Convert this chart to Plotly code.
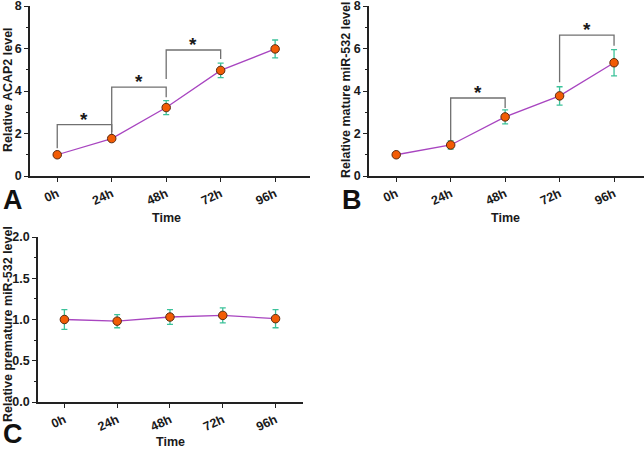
import plotly.graph_objects as go

W, H = 644, 449
times = ["0h", "24h", "48h", "72h", "96h"]
xi = list(range(len(times)))

acap2_mean = [1.0, 1.76, 3.22, 4.97, 5.98]
acap2_err = [0.05, 0.06, 0.33, 0.34, 0.42]
mature_mean = [1.0, 1.46, 2.78, 3.77, 5.33]
mature_err = [0.05, 0.19, 0.33, 0.43, 0.62]
pre_mean = [1.0, 0.98, 1.03, 1.05, 1.01]
pre_err = [0.12, 0.08, 0.09, 0.09, 0.11]

# significance brackets: (left idx, right idx, top y, left leg bottom, right leg bottom)
sig_a = [(0, 1, 2.42, 1.3, 1.92), (1, 2, 4.18, 2.07, 3.7), (2, 3, 5.93, 4.57, 5.5)]
sig_b = [(1, 2, 3.67, 1.6, 3.2), (3, 4, 6.63, 4.41, 6.13)]

LINE = "#a845c0"
MARK = "#f25c05"
ERR = "#3cc29a"
BR = "#707070"
FONT = "Liberation Sans"
TXT = "#1a1a1a"

def px_x(p):
    return p / W

def px_y(p):
    return 1 - p / H

fig = go.Figure()

panels = [
    dict(x="x", y="y", mean=acap2_mean, err=acap2_err, sig=sig_a),
    dict(x="x2", y="y2", mean=mature_mean, err=mature_err, sig=sig_b),
    dict(x="x3", y="y3", mean=pre_mean, err=pre_err, sig=[]),
]

for p in panels:
    for (i, j, top, lb, rb) in p["sig"]:
        fig.add_trace(go.Scatter(x=[i, i, j, j], y=[lb, top, top, rb], mode="lines",
                                 line=dict(color=BR, width=1.3), xaxis=p["x"], yaxis=p["y"],
                                 showlegend=False, hoverinfo="skip"))
        fig.add_annotation(x=(i + j) / 2, y=top, xref=p["x"], yref=p["y"], text="<b>*</b>",
                           showarrow=False, yanchor="bottom", xanchor="center", yshift=-7,
                           font=dict(family=FONT, size=19, color=TXT))
    fig.add_trace(go.Scatter(x=xi, y=p["mean"], mode="lines+markers",
                             line=dict(color=LINE, width=1.3),
                             marker=dict(color=MARK, size=8.5, line=dict(color="#5a2a10", width=1)),
                             error_y=dict(type="data", array=p["err"], color=ERR, thickness=1.3, width=3),
                             xaxis=p["x"], yaxis=p["y"], showlegend=False))

tickfont = dict(family=FONT, size=12.5, color=TXT, weight="bold")
titlefont = dict(family=FONT, size=12.5, color=TXT, weight="bold")

def xax(dom, rng, anchor):
    return dict(domain=dom, range=rng, anchor=anchor, tickmode="array", tickvals=xi, ticktext=times,
                tickangle=-25, showline=True, linecolor="#222", linewidth=1.5, ticks="outside",
                ticklen=4, tickwidth=1.3, tickcolor="#222", showgrid=False, zeroline=False,
                tickfont=tickfont, automargin=False, ticklabeloverflow="allow")

def yax(dom, rng, dtick, anchor, minor, fmt):
    return dict(domain=dom, range=rng, anchor=anchor, dtick=dtick, tickformat=fmt, showline=True,
                linecolor="#222", linewidth=1.5, ticks="outside", ticklen=4, tickwidth=1.3,
                tickcolor="#222", showgrid=False, zeroline=False, tickfont=tickfont, automargin=False,
                ticklabeloverflow="allow",
                minor=dict(dtick=minor, ticks="outside", ticklen=2.5, tickwidth=1, tickcolor="#222"))

fig.update_layout(
    width=W, height=H, margin=dict(l=0, r=0, t=0, b=0),
    plot_bgcolor="white", paper_bgcolor="white",
    xaxis=xax([px_x(30), px_x(310)], [-0.5, 4.64], "y"),
    yaxis=yax([px_y(176), px_y(6)], [0, 8], 2, "x", 1, "d"),
    xaxis2=xax([px_x(369), 1.0], [-0.5, 4.55], "y2"),
    yaxis2=yax([px_y(176), px_y(6)], [0, 8], 2, "x2", 1, "d"),
    xaxis3=xax([px_x(38), px_x(303)], [-0.5, 4.52], "y3"),
    yaxis3=yax([px_y(402), px_y(237)], [0, 2], 0.5, "x3", 0.25, ".1f"),
)

# axis titles
for txt, x, y, ang in [("Time", 166, 218, 0), ("Time", 505, 218, 0), ("Time", 171, 442, 0),
                       ("Relative ACAP2 level", 8, 90, -90),
                       ("Relative mature miR-532 level", 346, 90, -90),
                       ("Relative premature miR-532 level", 8, 324, -90)]:
    fig.add_annotation(x=px_x(x), y=px_y(y), xref="paper", yref="paper", text=txt, showarrow=False,
                       xanchor="center", yanchor="middle", textangle=ang, font=titlefont)

for txt, x, y in [("A", 13, 200), ("B", 352, 200), ("C", 13, 434)]:
    fig.add_annotation(x=px_x(x), y=px_y(y), xref="paper", yref="paper", text=txt, showarrow=False,
                       xanchor="center", yanchor="middle",
                       font=dict(family=FONT, size=27, color="#111", weight="bold"))

fig.write_html("out.html", config={"displayModeBar": False},
               post_script="document.body.style.margin='0';document.body.style.overflow='hidden';")
